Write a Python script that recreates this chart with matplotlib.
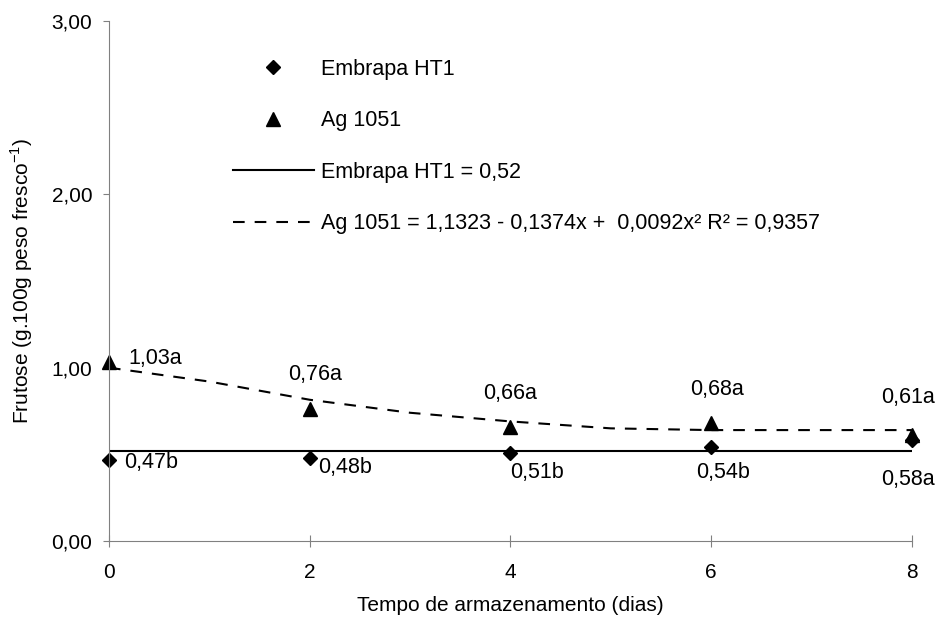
import matplotlib
matplotlib.use('Agg')
from matplotlib import pyplot as plt
from matplotlib.ticker import FuncFormatter

plt.rcParams['font.family'] = ['Liberation Sans', 'DejaVu Sans']
plt.rcParams['mathtext.fontset'] = 'custom'
plt.rcParams['mathtext.rm'] = 'Liberation Sans'

# dados
dias = [0, 2, 4, 6, 8]
embrapa = [0.47, 0.48, 0.51, 0.54, 0.58]
ag1051 = [1.03, 0.76, 0.66, 0.68, 0.61]
embrapa_labels = ['0,47b', '0,48b', '0,51b', '0,54b', '0,58a']
ag_labels = ['1,03a', '0,76a', '0,66a', '0,68a', '0,61a']

embrapa_media = 0.52
# linha de tendencia
tend_x = [0, 1, 2, 3, 4, 5, 6, 7, 8]
tend_y = [1.00, 0.92, 0.815, 0.74, 0.69, 0.65, 0.64, 0.64, 0.64]

eq_embrapa = 'Embrapa HT1 = 0,52'
eq_ag = 'Ag 1051 = 1,1323 - 0,1374x +  0,0092x² R² = 0,9357'

# deslocamento dos rotulos (pontos)
ag_off = [(14, 3), (4, 25), (0, 24), (4, 24), (-3, 27)]
ag_ha = ['left', 'center', 'center', 'center', 'center']
emb_off = [(11, -2), (6, -7), (0, -14), (9, -18), (-3, -28)]
emb_ha = ['left', 'left', 'left', 'center', 'center']

fs = 15
fs_txt = 15.5
fig = plt.figure(figsize=(9.39, 6.19), dpi=100)
ax = fig.add_axes([0.116, 0.126, 0.855, 0.840])

ax.plot([dias[0], dias[-1]], [embrapa_media, embrapa_media], color='black', lw=1.5, label=eq_embrapa)
ax.plot(tend_x, tend_y, color='black', lw=1.5, dashes=(5.6, 4.8), label=eq_ag)
ax.plot(dias, embrapa, 'D', color='black', ms=7, label='Embrapa HT1', clip_on=False)
ax.plot(dias, ag1051, '^', color='black', ms=10, label='Ag 1051', clip_on=False)

for x, y, t, o, h in zip(dias, ag1051, ag_labels, ag_off, ag_ha):
    ax.annotate(t, (x, y), xytext=o, textcoords='offset points', ha=h, va='center', fontsize=fs_txt)
for x, y, t, o, h in zip(dias, embrapa, embrapa_labels, emb_off, emb_ha):
    ax.annotate(t, (x, y), xytext=o, textcoords='offset points', ha=h, va='center', fontsize=fs_txt)

ax.set_xlim(0, 8)
ax.set_ylim(0, 3)
ax.set_xticks(dias)
ax.set_yticks([0, 1, 2, 3])
ax.yaxis.set_major_formatter(FuncFormatter(lambda v, p: ('%.2f' % v).replace('.', ',')))
ax.spines['top'].set_visible(False)
ax.spines['right'].set_visible(False)
ax.spines['left'].set_color('#808080')
ax.spines['bottom'].set_color('#808080')
ax.tick_params(axis='y', direction='out', length=4, color='#808080', labelsize=fs, pad=8)
ax.tick_params(axis='x', direction='inout', length=8, color='#808080', labelsize=fs, pad=12)

ax.set_xlabel('Tempo de armazenamento (dias)', fontsize=fs, labelpad=10)
ax.set_ylabel(r'Frutose (g.100g peso fresco$^{\mathregular{-1}}$)', fontsize=fs, labelpad=12)

h, l = ax.get_legend_handles_labels()
order = [2, 3, 0, 1]
ax.legend([h[i] for i in order], [l[i] for i in order], loc='upper left',
          bbox_to_anchor=(0.154, 0.927), frameon=False, fontsize=fs_txt,
          handlelength=3.8, handletextpad=0.3, labelspacing=1.41,
          borderpad=0, borderaxespad=0, numpoints=1)

plt.savefig('out.png', dpi=100)
